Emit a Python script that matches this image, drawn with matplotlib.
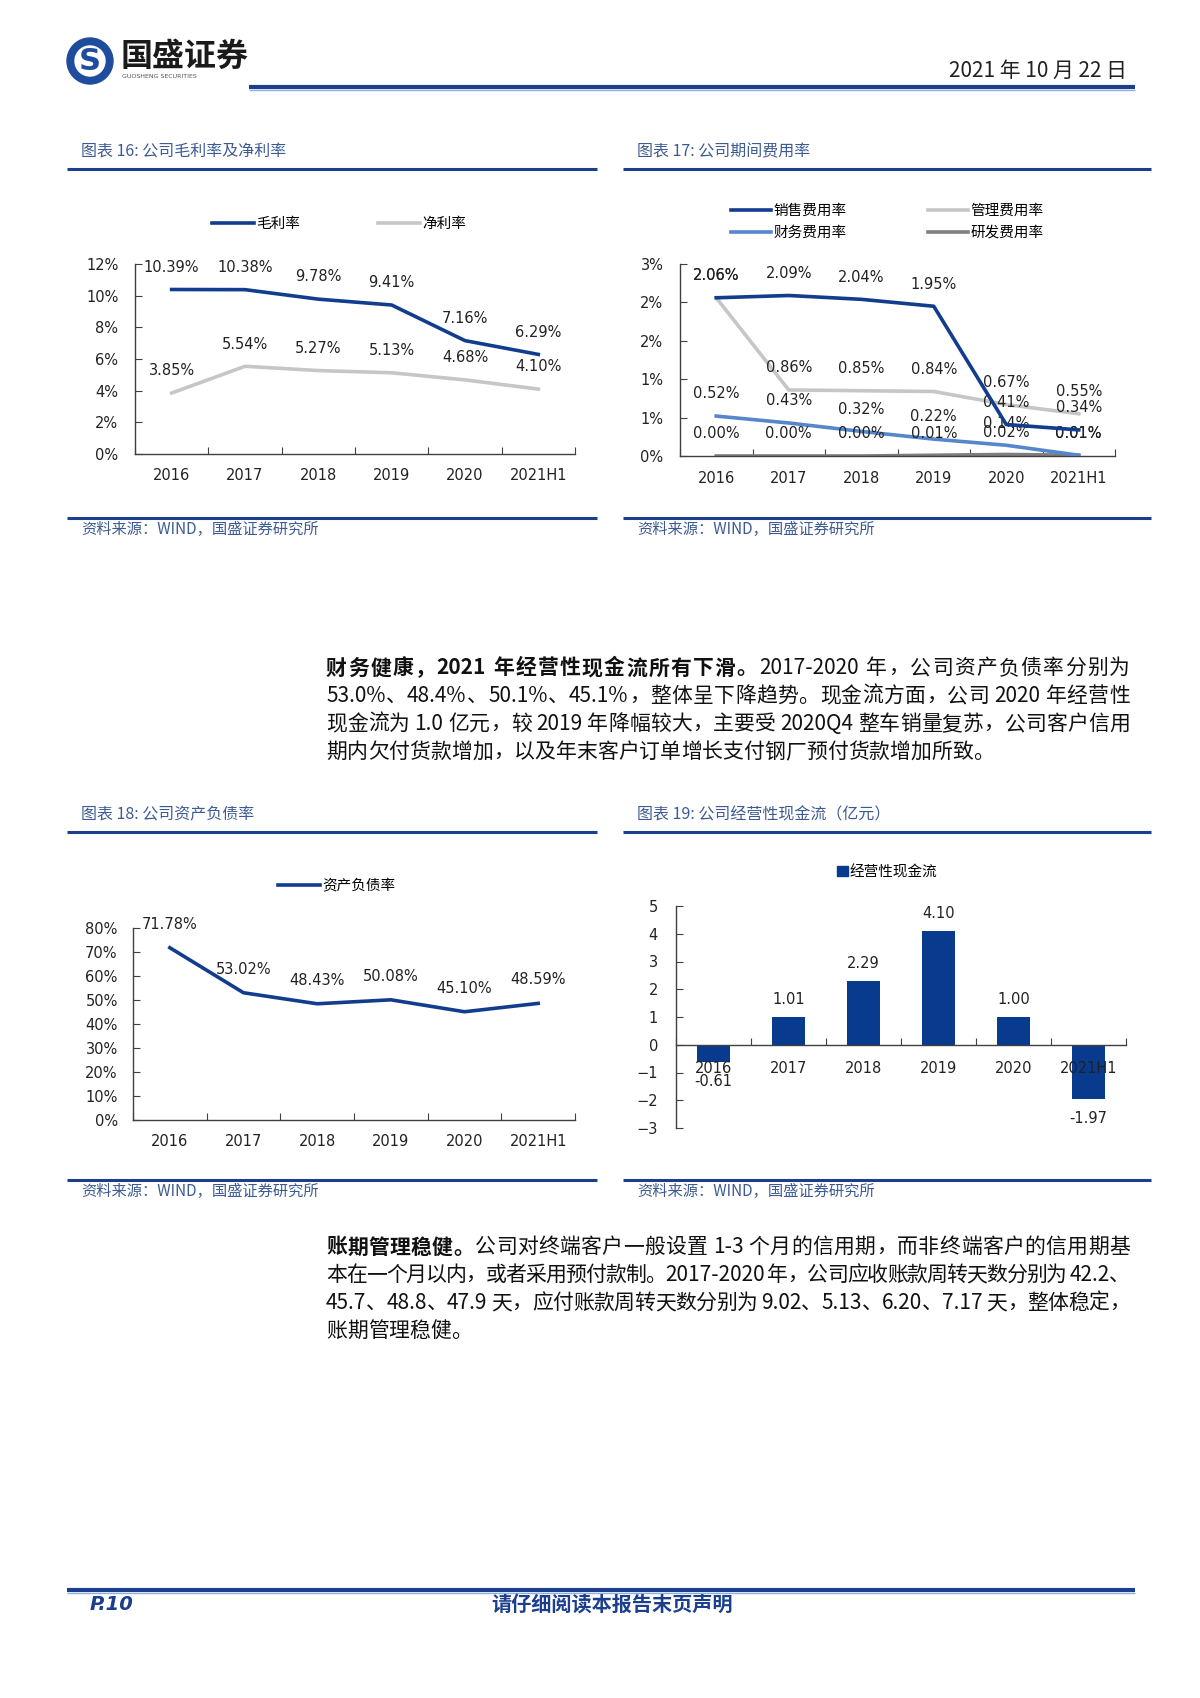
import re

import matplotlib
matplotlib.use("Agg")
import matplotlib.pyplot as plt
import numpy as np
from matplotlib.lines import Line2D
from matplotlib.patches import Circle, Patch
from matplotlib.ticker import FuncFormatter
from matplotlib.transforms import Affine2D

W, H = 1200, 1698
CJK = ['Noto Sans CJK SC', 'DejaVu Sans']
NUM = ['DejaVu Sans', 'Noto Sans CJK SC']
plt.rcParams['font.family'] = NUM

# data
years = ['2016', '2017', '2018', '2019', '2020', '2021H1']
gross_margin = [10.39, 10.38, 9.78, 9.41, 7.16, 6.29]
net_margin = [3.85, 5.54, 5.27, 5.13, 4.68, 4.10]
sales_exp = [2.06, 2.09, 2.04, 1.95, 0.41, 0.34]
admin_exp = [2.06, 0.86, 0.85, 0.84, 0.67, 0.55]
fin_exp = [0.52, 0.43, 0.32, 0.22, 0.14, 0.01]
rd_exp = [0.00, 0.00, 0.00, 0.01, 0.02, 0.01]
debt_ratio = [71.78, 53.02, 48.43, 50.08, 45.10, 48.59]
op_cash = [-0.61, 1.01, 2.29, 4.10, 1.00, -1.97]

DARK = '#123d8e'
LGRAY = '#c6c6c6'
MBLUE = '#5686cc'
DGRAY = '#7f7f7f'
RULE = '#1b3f8d'
TITLE = '#3d5b92'
AX = '#404040'

fig = plt.figure(figsize=(W / 100, H / 100), dpi=100)
# top-down pixel coordinates
PX = Affine2D().scale(1, -1).translate(0, H)


def px_axes(x0, y0, x1, y1):
    return fig.add_axes([x0 / W, 1 - y1 / H, (x1 - x0) / W, (y1 - y0) / H])


def hline(x0, x1, y, lw, color):
    fig.add_artist(Line2D([x0, x1], [y, y], transform=PX, lw=lw, color=color, solid_capstyle='butt'))


def cat_axis(ax, ypad=12, xpad=10):
    for s in ['top', 'right']:
        ax.spines[s].set_visible(False)
    for s in ['left', 'bottom']:
        ax.spines[s].set_color(AX)
        ax.spines[s].set_linewidth(1)
    ax.set_xlim(-0.5, 5.5)
    ax.set_xticks(np.arange(-0.5, 6, 1))
    ax.set_xticklabels([])
    ax.set_xticks(range(len(years)), labels=years, minor=True)
    ax.tick_params(axis='x', which='major', direction='in', length=5, color=AX)
    ax.tick_params(axis='x', which='minor', length=0, pad=xpad, labelsize=10.5, labelcolor='#222')
    ax.tick_params(axis='y', direction='in', length=5, color=AX, pad=ypad, labelsize=10.5, labelcolor='#222')
    ax.patch.set_alpha(0)


def line_labels(ax, vals, dy=16, fmt='{:.2f}%'):
    for i, v in enumerate(vals):
        ax.annotate(fmt.format(v), (i, v), xytext=(0, dy), textcoords='offset points',
                    ha='center', va='center', fontsize=10.5, color='#222')


def block(x0, x1, ytop, ybot, title):
    fig.text(x0 + 14, ytop - 17, title, transform=PX, family=CJK, size=11.5, color=TITLE, va='center')
    hline(x0, x1, ytop, 2.2, RULE)
    hline(x0, x1, ybot, 2.2, RULE)
    fig.text(x0 + 14, ybot + 11, '资料来源：WIND，国盛证券研究所', transform=PX, family=CJK, size=11,
             color=TITLE, va='center')


# header
fig.add_artist(Circle((90, 61), 23, transform=PX, color='#1f4d9e'))
fig.add_artist(Circle((90, 61), 15, transform=PX, color='white'))
fig.text(90, 62, 'S', transform=PX, size=22, weight='bold', color='#1f4d9e', ha='center', va='center')
fig.text(121, 57, '国盛证券', transform=PX, family=CJK, size=23, weight='bold', color='#1a1a1a', va='center')
fig.text(122, 77, 'GUOSHENG SECURITIES', transform=PX, size=4.5, color='#555', va='center')
fig.text(1127, 71, '2021 年 10 月 22 日', transform=PX, family=CJK, size=15, color='#222', ha='right', va='center')
hline(249, 1135, 87, 3, RULE)
hline(249, 1135, 90, 1, '#8fb0e0')

# chart blocks
block(67, 597, 169, 518, '图表 16: 公司毛利率及净利率')
block(623, 1151, 169, 518, '图表 17: 公司期间费用率')
block(67, 597, 832, 1180, '图表 18: 公司资产负债率')
block(623, 1151, 832, 1180, '图表 19: 公司经营性现金流（亿元）')

leg_font = {'family': CJK, 'size': 10.5}

# chart 16
ax1 = px_axes(135, 264, 575, 454)
x = np.arange(len(years))
ax1.plot(x, gross_margin, color=DARK, lw=2.6, label='毛利率')
ax1.plot(x, net_margin, color=LGRAY, lw=2.6, label='净利率')
ax1.set_ylim(0, 12)
ax1.set_yticks(np.arange(0, 13, 2))
ax1.yaxis.set_major_formatter(FuncFormatter(lambda v, p: f'{v:.0f}%'))
cat_axis(ax1, ypad=12)
line_labels(ax1, gross_margin)
line_labels(ax1, net_margin)
ax1.legend(loc='center left', bbox_to_anchor=(212, 224), bbox_transform=PX, ncol=2, frameon=False,
           borderpad=0, borderaxespad=0, handlelength=2.9, handletextpad=0.15, columnspacing=5.3,
           prop=leg_font)

# chart 17
ax2 = px_axes(680, 264, 1115, 456)
ax2.plot(x, sales_exp, color=DARK, lw=2.6, label='销售费用率', zorder=4)
ax2.plot(x, fin_exp, color=MBLUE, lw=2.6, label='财务费用率', zorder=3)
ax2.plot(x, admin_exp, color=LGRAY, lw=2.6, label='管理费用率', zorder=2)
ax2.plot(x, rd_exp, color=DGRAY, lw=2.6, label='研发费用率', zorder=2)
ax2.set_ylim(0, 2.5)
ax2.set_yticks(np.arange(0, 2.51, 0.5))
ax2.yaxis.set_major_formatter(FuncFormatter(lambda v, p: f'{int(v + 0.5 + 1e-9)}%'))
cat_axis(ax2, ypad=12, xpad=11)
for vals in [sales_exp, admin_exp, fin_exp, rd_exp]:
    line_labels(ax2, vals)
ax2.legend(loc='center left', bbox_to_anchor=(731, 222), bbox_transform=PX, ncol=2, frameon=False,
           borderpad=0, borderaxespad=0, handlelength=2.75, handletextpad=0.15, columnspacing=5.6,
           labelspacing=0.55, prop=leg_font)

# chart 18
ax3 = px_axes(133, 928, 575, 1120)
ax3.plot(x, debt_ratio, color=DARK, lw=2.6, label='资产负债率')
ax3.set_ylim(0, 80)
ax3.set_yticks(np.arange(0, 81, 10))
ax3.yaxis.set_major_formatter(FuncFormatter(lambda v, p: f'{v:.0f}%'))
cat_axis(ax3, ypad=11)
line_labels(ax3, debt_ratio, dy=17)
ax3.legend(loc='center left', bbox_to_anchor=(278, 886), bbox_transform=PX, frameon=False,
           borderpad=0, borderaxespad=0, handlelength=2.9, handletextpad=0.15, prop=leg_font)

# chart 19
ax4 = px_axes(676, 906, 1126, 1128)
ax4.bar(x, op_cash, width=0.44, color='#083a8e', label='经营性现金流', zorder=1)
ax4.set_ylim(-3, 5)
ax4.set_yticks(range(-3, 6))
cat_axis(ax4, ypad=13, xpad=12)
ax4.spines['bottom'].set_position(('data', 0))
for i, v in enumerate(op_cash):
    ax4.annotate(f'{v:.2f}', (i, v), xytext=(0, 12.5 if v >= 0 else -14), textcoords='offset points',
                 ha='center', va='center', fontsize=10.5, color='#222')
ax4.legend(handles=[Patch(color='#083a8e', label='经营性现金流')], loc='center left',
           bbox_to_anchor=(837, 872), bbox_transform=PX, frameon=False, borderpad=0, borderaxespad=0,
           handlelength=0.75, handleheight=0.75, handletextpad=0.1, prop=leg_font)

# body text
BODY = 15
renderer = fig.canvas.get_renderer()


def tokens(s):
    return re.findall(r'[A-Za-z0-9.%\-]+|\s|.', s)


def put_line(x0, x1, y, parts, justify=True):
    items = []
    for txt, wt in parts:
        for tk in tokens(txt):
            t = fig.text(0, y, tk, transform=PX, family=CJK, size=BODY, weight=wt, va='center',
                         ha='left', color='#111')
            items.append((t, t.get_window_extent(renderer).width))
    total = sum(w for _, w in items)
    gap = (x1 - x0 - total) / (len(items) - 1) if justify and len(items) > 1 else 0
    xx = x0
    for t, w in items:
        t.set_x(xx)
        xx += w + gap


para1 = [
    [('财务健康，2021 年经营性现金流所有下滑。', 'bold'), ('2017-2020 年，公司资产负债率分别为', 'normal')],
    [('53.0%、48.4%、50.1%、45.1%，整体呈下降趋势。现金流方面，公司 2020 年经营性', 'normal')],
    [('现金流为 1.0 亿元，较 2019 年降幅较大，主要受 2020Q4 整车销量复苏，公司客户信用', 'normal')],
    [('期内欠付货款增加，以及年末客户订单增长支付钢厂预付货款增加所致。', 'normal')],
]
para2 = [
    [('账期管理稳健。', 'bold'), ('公司对终端客户一般设置 1-3 个月的信用期，而非终端客户的信用期基', 'normal')],
    [('本在一个月以内，或者采用预付款制。2017-2020 年，公司应收账款周转天数分别为 42.2、', 'normal')],
    [('45.7、48.8、47.9 天，应付账款周转天数分别为 9.02、5.13、6.20、7.17 天，整体稳定，', 'normal')],
    [('账期管理稳健。', 'normal')],
]
for ys, para in [([668, 696, 724, 752], para1), ([1247, 1275, 1303, 1331], para2)]:
    for k, (yy, parts) in enumerate(zip(ys, para)):
        put_line(326, 1130, yy, parts, justify=k < len(para) - 1)

# footer
hline(67, 1135, 1590, 3, RULE)
hline(67, 1135, 1593, 1, '#8fb0e0')
fig.text(90, 1604, 'P.10', transform=PX, size=14, weight='bold', style='italic', color=RULE, va='center')
fig.text(612, 1604, '请仔细阅读本报告末页声明', transform=PX, family=CJK, size=14.5, weight='bold',
         color=RULE, ha='center', va='center')

fig.savefig('out.png', dpi=100)
